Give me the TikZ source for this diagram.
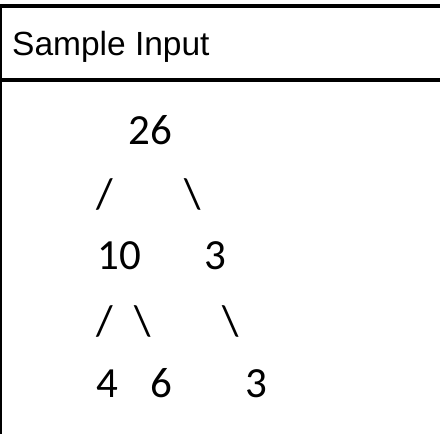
\documentclass[tikz,border=0pt]{standalone}
\usepackage{fontspec}
\setmainfont{Carlito}
\newfontfamily\headfont{Liberation Sans}
\tikzset{
	tok/.style={anchor=base west,inner sep=0pt,font=\fontsize{43}{43}\selectfont},
	rule/.style={line width=4pt}
}
\begin{document}
\begin{tikzpicture}[x=1pt,y=-1pt]
			\useasboundingbox (0,0) rectangle (440,434);
			% frame of the box
			\draw[rule] (0,6) -- (440,6);
			\draw[rule] (0,79.5) -- (440,79.5);
			\draw[line width=1.5pt] (0.75,4) -- (0.75,434);
			\node[anchor=base west,inner sep=0pt,font=\headfont\fontsize{33.5}{33.5}\selectfont]
			(head) at (12,55) {Sample Input};
			% the tree, row by row
			\node[tok] (r) at (128,144) {26};
			\node[tok] (sl) at (96,208) {/};
			\node[tok] (sr) at (184,208) {\textbackslash};
			\node[tok] (l) at (97,269) {10};
			\node[tok] (rr) at (204,269) {3};
			\node[tok] (sll) at (96,335) {/};
			\node[tok] (slr) at (134,335) {\textbackslash};
			\node[tok] (srr) at (222,335) {\textbackslash};
			\node[tok] (ll) at (96,397) {4};
			\node[tok] (lr) at (150,397) {6};
			\node[tok] (rrr) at (245,397) {3};
\end{tikzpicture}
\end{document}
